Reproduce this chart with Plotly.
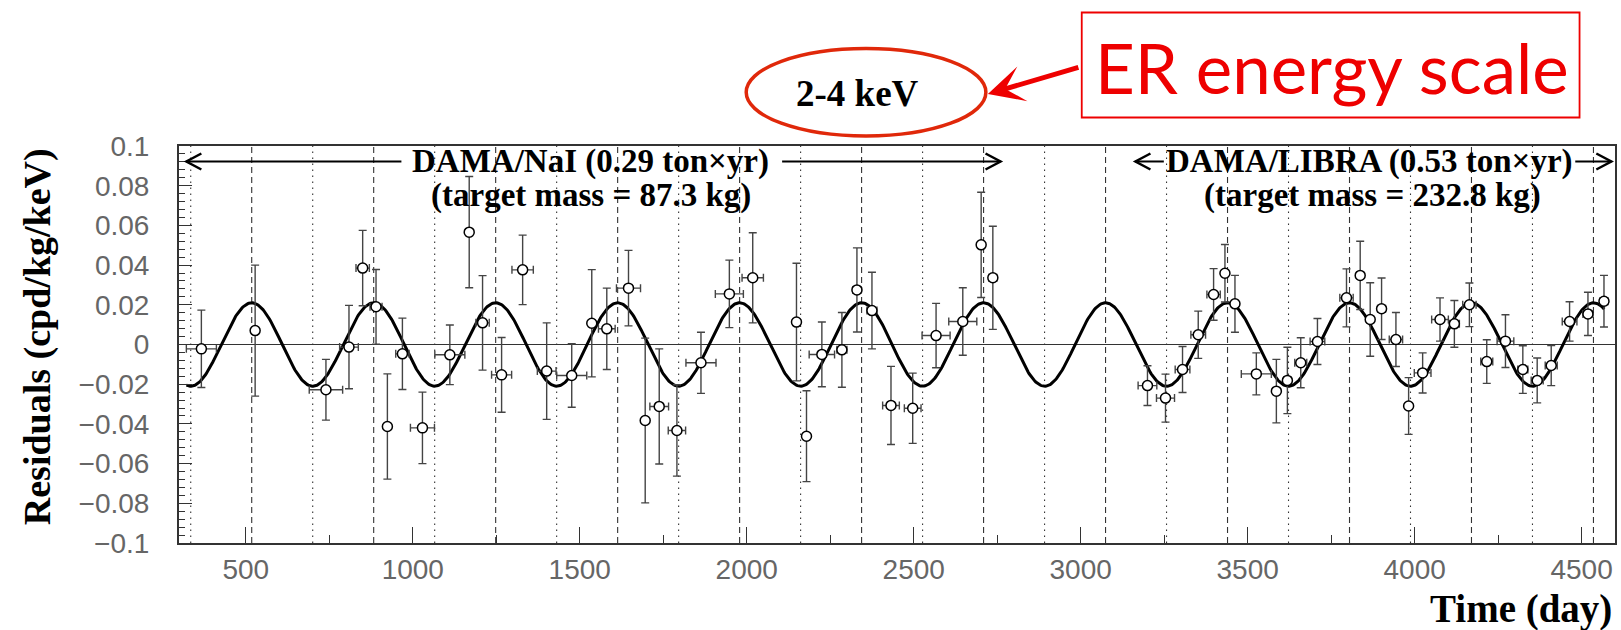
import numpy as np
import plotly.graph_objects as go

# ---------------- data ----------------
days = [367, 528, 740, 809, 850, 890, 924, 969, 1029, 1111, 1169, 1209, 1266, 1329,
        1401, 1476, 1536, 1581, 1646, 1696, 1738, 1791, 1863, 1948, 2018, 2149, 2179,
        2225, 2285, 2330, 2375, 2432, 2497, 2567, 2647, 2702, 2737,
        3200, 3254, 3305, 3352, 3398, 3432, 3462, 3526, 3586, 3619, 3659, 3709, 3796,
        3837, 3867, 3901, 3944, 3982, 4024, 4076, 4119, 4164, 4216, 4272, 4324, 4367,
        4409, 4464, 4519, 4567]
residuals = [-0.0022, 0.0070, -0.0228, -0.0013, 0.0385, 0.0190, -0.0413, -0.0047, -0.0420,
             -0.0052, 0.0566, 0.0109, -0.0153, 0.0376, -0.0134, -0.0156, 0.0107, 0.0079,
             0.0284, -0.0383, -0.0312, -0.0433, -0.0092, 0.0255, 0.0336, 0.0113, -0.0462,
             -0.0050, -0.0027, 0.0275, 0.0171, -0.0307, -0.0321, 0.0045, 0.0116, 0.0502, 0.0336,
             -0.0207, -0.0270, -0.0126, 0.0049, 0.0252, 0.0359, 0.0205, -0.0148, -0.0235,
             -0.0181, -0.0092, 0.0015, 0.0235, 0.0348, 0.0126, 0.0180, 0.0025, -0.0310,
             -0.0143, 0.0126, 0.0104, 0.0200, -0.0086, 0.0017, -0.0126, -0.0181, -0.0106,
             0.0116, 0.0154, 0.0218]
residual_err = [0.0195, 0.0330, 0.0153, 0.0210, 0.0190, 0.0188, 0.0265, 0.0180, 0.0180,
                0.0150, 0.0280, 0.0238, 0.0188, 0.0175, 0.0243, 0.0160, 0.0270, 0.0205,
                0.0190, 0.0415, 0.0290, 0.0230, 0.0154, 0.0170, 0.0227, 0.0296, 0.0229,
                0.0163, 0.0188, 0.0212, 0.0193, 0.0197, 0.0177, 0.0162, 0.0170, 0.0265, 0.0260,
                0.0100, 0.0121, 0.0116, 0.0119, 0.0130, 0.0145, 0.0143, 0.0106, 0.0160,
                0.0167, 0.0126, 0.0116, 0.0146, 0.0172, 0.0185, 0.0155, 0.0136, 0.0143,
                0.0101, 0.0109, 0.0118, 0.0110, 0.0110, 0.0133, 0.0120, 0.0113, 0.0101,
                0.0099, 0.0109, 0.0130]
day_err = [45, 8, 50, 28, 20, 18, 8, 20, 36, 45, 8, 20, 30, 32, 28, 45, 8, 25, 36, 8, 28,
           26, 45, 42, 32, 8, 8, 38, 15, 12, 15, 25, 25, 42, 42, 8, 12,
           28, 27, 22, 22, 20, 8, 10, 45, 8, 10, 18, 22, 20, 8, 10, 12, 20, 8, 25, 25,
           15, 20, 18, 25, 15, 18, 18, 22, 15, 12]

# fitted modulation A*cos(2pi/T (t - t0))
AMPLITUDE = 0.021
PERIOD = 365.25
PHASE = 152.5
CURVE_START, CURVE_END = 322, 4568

x_range = [300, 4600]
y_range = [-0.1, 0.1]
x_tickvals = [500, 1000, 1500, 2000, 2500, 3000, 3500, 4000, 4500]
x_ticktext = ["500", "1000", "1500", "2000", "2500", "3000", "3500", "4000", "4500"]
y_tickvals = [-0.1, -0.08, -0.06, -0.04, -0.02, 0, 0.02, 0.04, 0.06, 0.08, 0.1]
y_ticktext = ["\u22120.1", "\u22120.08", "\u22120.06", "\u22120.04", "\u22120.02", "0",
              "0.02", "0.04", "0.06", "0.08", "0.1"]

# period annotations (days)
nai_arrow = [322, 966, 2106, 2760]      # tip, line end | line start, tip
libra_arrow = [3164, 3249, 4481, 4589]
arrow_level = 0.0922
nai_label = ["DAMA/NaI (0.29 ton\u00d7yr)", "(target mass = 87.3 kg)"]
libra_label = ["DAMA/LIBRA (0.53 ton\u00d7yr)", "(target mass = 232.8 kg)"]
nai_label_x = [1533, 1533]
libra_label_x = [3865, 3874]
label_y = [0.0920, 0.0753]

# ---------------- layout geometry ----------------
W, H = 1621, 630
L, R, T, B = 179, 1617, 146, 543


def px_x(px):
    return (px - L) / (R - L)


def px_y(py):
    return (B - py) / (B - T)


fig = go.Figure()

# vertical lines at maxima (dashed) and minima (dotted)
peaks = [PHASE + k * PERIOD for k in range(0, 14) if x_range[0] < PHASE + k * PERIOD < x_range[1]]
troughs = [PHASE + PERIOD / 2 + k * PERIOD for k in range(0, 14)
           if x_range[0] < PHASE + PERIOD / 2 + k * PERIOD < x_range[1]]


def vlines(xs):
    xx, yy = [], []
    for v in xs:
        xx += [v, v, None]
        yy += [y_range[0], y_range[1], None]
    return xx, yy


vx, vy = vlines(peaks)
fig.add_trace(go.Scatter(x=vx, y=vy, mode="lines", hoverinfo="skip", showlegend=False,
                         line=dict(color="#333333", width=1.1, dash="6px,4px")))
vx, vy = vlines(troughs)
fig.add_trace(go.Scatter(x=vx, y=vy, mode="lines", hoverinfo="skip", showlegend=False,
                         line=dict(color="#333333", width=1.1, dash="1.5px,4.5px")))

# curve
t = np.linspace(CURVE_START, CURVE_END, 1500)
fig.add_trace(go.Scatter(x=t, y=AMPLITUDE * np.cos(2 * np.pi * (t - PHASE) / PERIOD),
                         mode="lines", showlegend=False, hoverinfo="skip",
                         line=dict(color="black", width=3)))

# data points
fig.add_trace(go.Scatter(
    x=days, y=residuals, mode="markers", showlegend=False,
    marker=dict(symbol="circle", size=10, color="white", line=dict(color="black", width=1.5)),
    error_y=dict(type="data", array=residual_err, visible=True, color="#444444",
                 thickness=1.4, width=4),
    error_x=dict(type="data", array=day_err, visible=True, color="#444444",
                 thickness=1.4, width=4),
))

shapes = []
annotations = []

# arrows for the two periods
for arr in (nai_arrow, libra_arrow):
    shapes.append(dict(type="line", xref="x", yref="y", x0=arr[0], x1=arr[1],
                       y0=arrow_level, y1=arrow_level, line=dict(color="black", width=2)))
    shapes.append(dict(type="line", xref="x", yref="y", x0=arr[2], x1=arr[3],
                       y0=arrow_level, y1=arrow_level, line=dict(color="black", width=2)))
    shapes.append(dict(type="path", xref="x", yref="y", xsizemode="pixel", ysizemode="pixel",
                       xanchor=arr[0], yanchor=arrow_level, path="M15,8L0,0L15,-8",
                       line=dict(color="black", width=2.5)))
    shapes.append(dict(type="path", xref="x", yref="y", xsizemode="pixel", ysizemode="pixel",
                       xanchor=arr[3], yanchor=arrow_level, path="M-15,8L0,0L-15,-8",
                       line=dict(color="black", width=2.5)))

serif = "Liberation Serif, Times New Roman, serif"
for labels, xs in ((nai_label, nai_label_x), (libra_label, libra_label_x)):
    for txt, xv, yv in zip(labels, xs, label_y):
        annotations.append(dict(x=xv, y=yv, xref="x", yref="y", text="<b>%s</b>" % txt,
                                showarrow=False, xanchor="center", yanchor="middle",
                                font=dict(family=serif, size=33, color="black")))

# ellipse with 2-4 keV
shapes.append(dict(type="circle", xref="paper", yref="paper",
                   x0=px_x(747), x1=px_x(987), y0=px_y(136), y1=px_y(48.5),
                   line=dict(color="rgb(224,40,10)", width=3.5)))
annotations.append(dict(x=px_x(858), y=px_y(94), xref="paper", yref="paper",
                        text="<b>2-4 keV</b>", showarrow=False, xanchor="center",
                        yanchor="middle", font=dict(family=serif, size=37, color="black")))
# red arrow
annotations.append(dict(x=px_x(989), y=px_y(94), xref="paper", yref="paper", text="",
                        showarrow=True, ax=92, ay=-27, arrowhead=3, arrowsize=1.2,
                        arrowwidth=5, arrowcolor="#ee0000", standoff=0))
# red box
shapes.append(dict(type="rect", xref="paper", yref="paper",
                   x0=px_x(1083), x1=px_x(1581.5), y0=px_y(117.5), y1=px_y(12.5),
                   line=dict(color="#ee0000", width=1.8)))
annotations.append(dict(x=px_x(1334), y=px_y(67), xref="paper", yref="paper",
                        text="ER energy scale", showarrow=False, xanchor="center",
                        yanchor="middle", font=dict(family="Lato, sans-serif", size=69,
                                                    color="#ee0000")))

# axis titles
annotations.append(dict(x=px_x(37), y=px_y(337), xref="paper", yref="paper",
                        text="<b>Residuals (cpd/kg/keV)</b>", textangle=-90, showarrow=False,
                        xanchor="center", yanchor="middle",
                        font=dict(family=serif, size=38, color="black")))
annotations.append(dict(x=px_x(1616), y=px_y(609), xref="paper", yref="paper",
                        text="<b>Time (day)</b>", showarrow=False,
                        xanchor="right", yanchor="middle",
                        font=dict(family=serif, size=39, color="black")))

tickfont = dict(family="Liberation Sans, Arial, sans-serif", size=28, color="#666666")

fig.update_layout(
    width=W, height=H,
    margin=dict(l=L, r=W - R, t=T, b=H - B, pad=0),
    paper_bgcolor="white", plot_bgcolor="white",
    showlegend=False,
    shapes=shapes, annotations=annotations,
    xaxis=dict(range=x_range, showgrid=False, zeroline=False, showline=True,
               linecolor="#333333", linewidth=2, mirror=True,
               ticks="inside", ticklen=16, tickwidth=1.2, tickcolor="#333333",
               tickmode="array", tickvals=x_tickvals, ticktext=x_ticktext,
               tickfont=tickfont, ticklabelstandoff=0,
               minor=dict(ticks="inside", tickmode="linear", tick0=0, dtick=250,
                          ticklen=8, tickwidth=1.1, tickcolor="#333333", showgrid=False)),
    yaxis=dict(range=y_range, showgrid=False, zeroline=True, zerolinecolor="#333333",
               zerolinewidth=1.2, showline=True, linecolor="#333333", linewidth=2,
               mirror=True, ticks="inside", ticklen=13, tickwidth=1.2,
               tickcolor="#333333", tickmode="array", tickvals=y_tickvals,
               ticktext=y_ticktext, tickfont=tickfont, ticklabelstandoff=22,
               minor=dict(ticks="inside", tickmode="linear", tick0=0, dtick=0.004,
                          ticklen=6, tickwidth=1, tickcolor="#333333", showgrid=False)),
)

fig.write_html("out.html", config={"displayModeBar": False},
               post_script="document.body.style.margin='0';document.body.style.padding='0';"
                           "document.body.style.overflow='hidden';")
